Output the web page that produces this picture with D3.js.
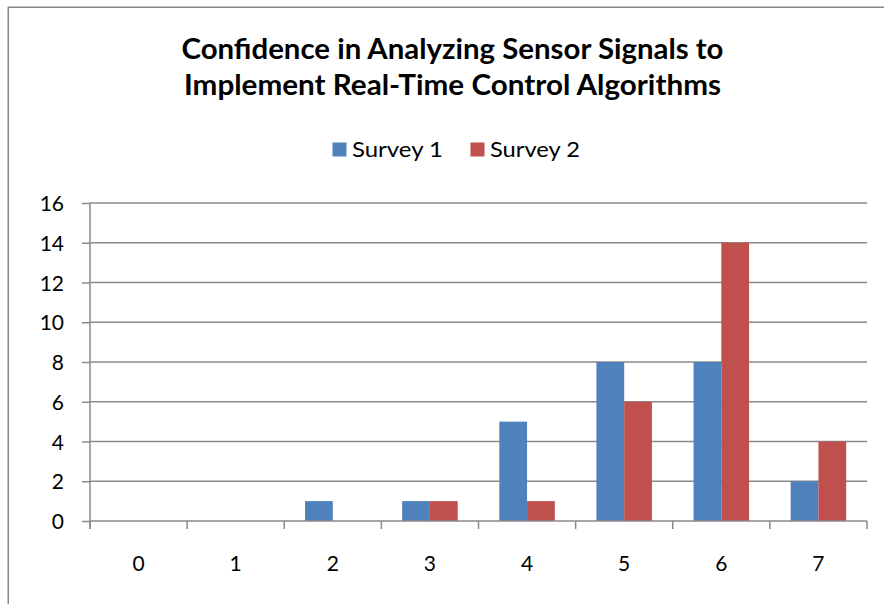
<!DOCTYPE html>
<html>
<head>
<meta charset="utf-8">
<script src="https://cdn.jsdelivr.net/npm/d3@7"></script>
<style>
  html, body { margin: 0; padding: 0; background: #fff; }
  svg { display: block; }
  text { font-family: Lato, "Open Sans", "Liberation Sans", sans-serif; fill: #000; }
</style>
</head>
<body>
<svg id="chart" width="884" height="604"></svg>
<script>
// Chart data
const titleLines = ["Confidence in Analyzing Sensor Signals to", "Implement Real-Time Control Algorithms"];
const categories = ["0", "1", "2", "3", "4", "5", "6", "7"];
const seriesNames = ["Survey 1", "Survey 2"];
const survey1 = [0, 0, 1, 1, 5, 8, 8, 2];
const survey2 = [0, 0, 0, 1, 1, 6, 14, 4];
const yTicks = [0, 2, 4, 6, 8, 10, 12, 14, 16];
const colors = ["#4F81BD", "#C0504D"];

const seriesValues = [survey1, survey2];
const rows = categories.map((c, i) => ({
  cat: c,
  vals: seriesNames.map((s, j) => ({ name: s, value: seriesValues[j][i], color: colors[j] }))
}));

const svg = d3.select("#chart");
const W = 884, H = 604;
const gridColor = "#8a8a8a";

// Outer chart frame (extends past the right and bottom edges)
svg.append("rect")
  .attr("x", 8.25).attr("y", 7.25)
  .attr("width", W + 20).attr("height", H + 20)
  .attr("fill", "#fff")
  .attr("stroke", "#878787").attr("stroke-width", 1.5);

// Plot area
const plot = { left: 90, right: 867, top: 203, bottom: 521 };

const x0 = d3.scaleBand().domain(categories).range([plot.left, plot.right]).padding(0);
const x1 = d3.scaleBand().domain(seriesNames).range([0, x0.bandwidth()])
  .paddingInner(0).paddingOuter(0.75);
const y = d3.scaleLinear().domain([0, 16]).range([plot.bottom, plot.top]);

// Horizontal gridlines + y axis
const yAxis = d3.axisLeft(y).tickValues(yTicks).tickSize(8).tickPadding(18).tickFormat(d3.format("d"));
const gy = svg.append("g").attr("transform", `translate(${plot.left},0)`).call(yAxis);
gy.select(".domain").remove();
gy.selectAll(".tick line").attr("stroke", gridColor).attr("stroke-width", 1.5);
gy.selectAll(".tick text").attr("font-size", 21).attr("fill", "#000").attr("dy", "0.36em");

svg.append("g").selectAll("line").data(yTicks.filter(d => d > 0)).join("line")
  .attr("x1", plot.left).attr("x2", plot.right)
  .attr("y1", d => y(d)).attr("y2", d => y(d))
  .attr("stroke", gridColor).attr("stroke-width", 1.5);

// Bars
svg.append("g").selectAll("g").data(rows).join("g")
  .attr("transform", d => `translate(${x0(d.cat)},0)`)
  .selectAll("rect").data(d => d.vals).join("rect")
  .attr("x", d => x1(d.name))
  .attr("width", x1.bandwidth())
  .attr("y", d => y(d.value))
  .attr("height", d => y(0) - y(d.value))
  .attr("fill", d => d.color);

// Vertical axis line
svg.append("line")
  .attr("x1", plot.left).attr("x2", plot.left)
  .attr("y1", plot.top).attr("y2", plot.bottom + 8)
  .attr("stroke", gridColor).attr("stroke-width", 1.5);

// Category axis with ticks on band boundaries
svg.append("line")
  .attr("x1", plot.left).attr("x2", plot.right)
  .attr("y1", plot.bottom).attr("y2", plot.bottom)
  .attr("stroke", gridColor).attr("stroke-width", 1.5);
const boundaries = categories.map(c => x0(c)).concat([x0(categories[categories.length - 1]) + x0.bandwidth()]);
svg.append("g").selectAll("line").data(boundaries).join("line")
  .attr("x1", d => d).attr("x2", d => d)
  .attr("y1", plot.bottom).attr("y2", plot.bottom + 8)
  .attr("stroke", gridColor).attr("stroke-width", 1.5);
svg.append("g").selectAll("text").data(categories).join("text")
  .attr("x", d => x0(d) + x0.bandwidth() / 2)
  .attr("y", 571)
  .attr("text-anchor", "middle")
  .attr("font-size", 21)
  .text(d => d);

// Title: two centred bold lines, condensed slightly to the title width
const titleBaselines = [58.5, 94.5];
const titleWidths = [542, 537];
titleLines.forEach((t, i) => {
  svg.append("text")
    .attr("x", 452.5).attr("y", titleBaselines[i])
    .attr("text-anchor", "middle")
    .attr("font-weight", "bold")
    .attr("font-size", 28)
    .attr("textLength", titleWidths[i])
    .attr("lengthAdjust", "spacingAndGlyphs")
    .text(t);
});

// Legend
const legendItems = [
  { name: seriesNames[0], color: colors[0], sx: 332.5, tx: 352, tw: 91 },
  { name: seriesNames[1], color: colors[1], sx: 470.5, tx: 490, tw: 90 }
];
const lg = svg.append("g");
legendItems.forEach(it => {
  lg.append("rect").attr("x", it.sx).attr("y", 142.5).attr("width", 14).attr("height", 14).attr("fill", it.color);
  lg.append("text").attr("x", it.tx).attr("y", 157).attr("font-size", 21)
    .attr("textLength", it.tw).attr("lengthAdjust", "spacingAndGlyphs")
    .text(it.name);
});
</script>
</body>
</html>
